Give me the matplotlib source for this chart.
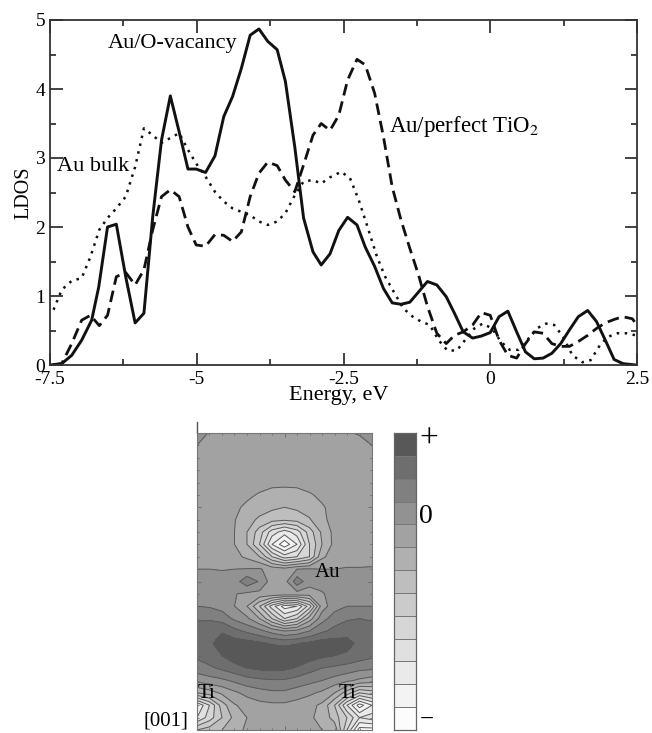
import numpy as np
import matplotlib
matplotlib.use('Agg')
import matplotlib.pyplot as plt
from matplotlib.colors import BoundaryNorm, ListedColormap
from matplotlib.ticker import MultipleLocator, FixedFormatter, FixedLocator

plt.rcParams['font.family'] = ['Liberation Serif', 'DejaVu Serif']
plt.rcParams['mathtext.fontset'] = 'stix'

W, H = 652, 733

# Au/O-vacancy
vac_x = [-7.5, -7.3, -7.13, -6.96, -6.79, -6.67, -6.52, -6.37, -6.21, -6.05, -5.9, -5.75, -5.6, -5.45, -5.3,
         -5.15, -5.01, -4.85, -4.69, -4.54, -4.39, -4.24, -4.09, -3.94, -3.79, -3.63, -3.49, -3.33, -3.18,
         -3.02, -2.88, -2.73, -2.58, -2.43, -2.27, -2.13, -1.97, -1.82, -1.67, -1.52, -1.37, -1.22, -1.07,
         -0.91, -0.75, -0.61, -0.46, -0.3, -0.15, 0.0, 0.15, 0.3, 0.45, 0.6, 0.75, 0.9, 1.05, 1.2, 1.35, 1.5,
         1.66, 1.81, 1.96, 2.11, 2.26, 2.48]
vac_y = [0.0, 0.02, 0.14, 0.36, 0.65, 1.13, 2.0, 2.04, 1.28, 0.61, 0.75, 2.15, 3.26, 3.9, 3.38,
         2.84, 2.84, 2.79, 3.03, 3.6, 3.89, 4.3, 4.78, 4.87, 4.69, 4.57, 4.11, 3.16, 2.13,
         1.64, 1.45, 1.61, 1.95, 2.14, 2.03, 1.71, 1.43, 1.11, 0.9, 0.88, 0.91, 1.06, 1.21,
         1.16, 0.99, 0.75, 0.48, 0.39, 0.42, 0.47, 0.7, 0.78, 0.48, 0.19, 0.09, 0.1, 0.17, 0.31, 0.51, 0.7,
         0.79, 0.63, 0.36, 0.08, 0.02, 0.0]

# Au/perfect TiO2
perf_x = [-7.44, -7.3, -7.13, -6.96, -6.81, -6.66, -6.52, -6.37, -6.21, -6.05, -5.9, -5.75, -5.6, -5.45, -5.3,
          -5.15, -5.01, -4.85, -4.69, -4.54, -4.39, -4.24, -4.09, -3.94, -3.79, -3.63, -3.49, -3.33, -3.18,
          -3.02, -2.88, -2.73, -2.58, -2.43, -2.27, -2.13, -1.97, -1.82, -1.67, -1.52, -1.37, -1.22, -1.07,
          -0.91, -0.75, -0.61, -0.46, -0.3, -0.15, 0.0, 0.15, 0.3, 0.45, 0.6, 0.75, 0.9, 1.05, 1.2, 1.35, 1.5,
          1.66, 1.81, 1.96, 2.11, 2.26, 2.42, 2.5]
perf_y = [0.0, 0.02, 0.31, 0.65, 0.72, 0.57, 0.72, 1.28, 1.34, 1.16, 1.38, 1.96, 2.44, 2.54, 2.44,
          2.0, 1.74, 1.72, 1.89, 1.88, 1.79, 1.93, 2.44, 2.78, 2.94, 2.89, 2.68, 2.51, 2.9,
          3.33, 3.5, 3.4, 3.62, 4.13, 4.43, 4.35, 3.94, 3.31, 2.58, 2.1, 1.69, 1.3, 0.85,
          0.46, 0.31, 0.43, 0.48, 0.58, 0.76, 0.72, 0.36, 0.14, 0.1, 0.31, 0.48, 0.46, 0.31, 0.27, 0.27, 0.34,
          0.43, 0.53, 0.61, 0.66, 0.7, 0.67, 0.58]

# Au bulk
bulk_x = [-7.44, -7.3, -7.13, -6.96, -6.81, -6.66, -6.52, -6.37, -6.21, -6.05, -5.9, -5.75, -5.6, -5.45, -5.3,
          -5.15, -5.01, -4.85, -4.69, -4.54, -4.39, -4.24, -4.09, -3.94, -3.79, -3.63, -3.49, -3.33, -3.18,
          -3.02, -2.88, -2.73, -2.54, -2.39, -2.24, -2.09, -1.93, -1.79, -1.63, -1.48, -1.32, -1.18, -1.03,
          -0.88, -0.73, -0.57, -0.43, -0.27, -0.13, 0.03, 0.18, 0.33, 0.48, 0.63, 0.79, 0.95, 1.09, 1.24, 1.4,
          1.57, 1.71, 1.87, 2.01, 2.17, 2.32, 2.48]
bulk_y = [0.8, 1.09, 1.22, 1.26, 1.57, 1.96, 2.13, 2.27, 2.44, 2.87, 3.43, 3.33, 3.22, 3.29, 3.36,
          3.12, 2.92, 2.73, 2.51, 2.37, 2.27, 2.22, 2.17, 2.08, 2.03, 2.08, 2.2, 2.46, 2.66,
          2.68, 2.63, 2.72, 2.8, 2.71, 2.39, 2.0, 1.57, 1.28, 1.04, 0.82, 0.7, 0.63, 0.58,
          0.36, 0.21, 0.21, 0.36, 0.53, 0.6, 0.53, 0.34, 0.22, 0.22, 0.36, 0.53, 0.6, 0.58, 0.41, 0.14,
          0.04, 0.07, 0.29, 0.41, 0.46, 0.46, 0.43]

xticks = [-7.5, -5, -2.5, 0, 2.5]
xtick_labels = ['-7.5', '-5', '-2.5', '0', '2.5']

# charge density map, in units of the grey steps of the scale bar (0 = white)
density = [
    [9.6, 8.9, 8.5, 8.5, 8.5, 8.5, 8.5, 8.5, 8.5, 8.5, 8.5, 8.5, 8.9, 9.1, 9.5],
    [9.0, 8.6, 8.5, 8.5, 8.5, 8.5, 8.5, 8.5, 8.5, 8.5, 8.5, 8.5, 8.5, 8.6, 9.0],
    [8.5, 8.5, 8.5, 8.5, 8.5, 8.5, 8.5, 8.5, 8.5, 8.5, 8.5, 8.5, 8.5, 8.5, 8.5],
    [8.5, 8.5, 8.5, 8.5, 8.5, 8.5, 8.5, 8.5, 8.5, 8.5, 8.5, 8.5, 8.5, 8.5, 8.5],
    [8.5, 8.5, 8.5, 8.5, 8.5, 8.4, 8.3, 8.3, 8.3, 8.4, 8.5, 8.5, 8.5, 8.5, 8.5],
    [8.5, 8.5, 8.5, 8.4, 8.2, 7.9, 7.6, 7.5, 7.6, 7.9, 8.2, 8.5, 8.5, 8.5, 8.5],
    [8.5, 8.5, 8.5, 8.2, 7.8, 7.5, 7.2, 7.0, 7.2, 7.5, 7.9, 8.3, 8.5, 8.5, 8.5],
    [8.5, 8.5, 8.5, 8.05, 7.4, 6.8, 6.4, 6.2, 6.4, 6.9, 7.8, 8.3, 8.5, 8.5, 8.5],
    [8.5, 8.5, 8.5, 8.0, 7.0, 5.5, 3.5, 2.5, 3.5, 5.5, 7.2, 8.3, 8.5, 8.5, 8.5],
    [8.5, 8.5, 8.5, 8.0, 7.0, 5.0, 2.0, 0.3, 2.0, 5.0, 7.0, 8.3, 8.5, 8.5, 8.6],
    [8.7, 8.7, 8.7, 8.3, 7.8, 7.0, 5.0, 3.5, 4.0, 5.0, 7.8, 8.5, 8.7, 8.7, 8.8],
    [9.0, 9.0, 8.95, 9.0, 9.05, 9.1, 8.6, 8.4, 9.0, 9.1, 9.0, 9.0, 9.05, 9.05, 9.05],
    [9.4, 9.4, 9.4, 9.5, 10.7, 9.9, 8.5, 8.6, 10.6, 9.4, 9.4, 9.4, 9.4, 9.4, 9.4],
    [9.5, 9.5, 9.5, 9.05, 8.8, 8.7, 8.7, 8.6, 8.6, 8.5, 8.9, 9.4, 9.5, 9.5, 9.5],
    [10.0, 9.9, 9.6, 9.0, 8.0, 6.0, 3.5, 1.5, 2.0, 4.5, 8.5, 9.6, 10.0, 10.0, 10.0],
    [10.9, 10.9, 10.6, 9.8, 9.2, 8.0, 6.0, 4.0, 5.0, 7.5, 9.6, 10.5, 10.9, 11.0, 10.9],
    [11.4, 11.6, 11.9, 11.3, 10.8, 10.3, 9.6, 9.0, 9.3, 10.0, 10.8, 11.3, 11.5, 11.6, 11.4],
    [11.3, 11.8, 12.5, 12.5, 12.4, 12.2, 11.9, 11.8, 11.95, 12.2, 12.5, 12.5, 12.4, 11.7, 11.3],
    [11.2, 11.6, 12.0, 12.6, 12.8, 12.8, 12.8, 12.7, 12.7, 12.5, 12.2, 12.0, 11.8, 11.5, 11.2],
    [10.5, 10.8, 11.2, 11.6, 12.0, 12.2, 12.3, 12.2, 11.9, 11.4, 11.0, 10.8, 10.6, 10.3, 10.2],
    [9.3, 9.6, 9.8, 10.2, 10.6, 10.8, 10.9, 10.9, 10.6, 10.3, 10.0, 9.6, 9.2, 8.8, 8.5],
    [7.0, 7.5, 8.2, 8.8, 9.3, 9.6, 9.8, 9.8, 9.5, 9.2, 8.8, 8.0, 6.5, 5.0, 5.5],
    [2.0, 4.0, 6.5, 7.9, 8.4, 8.7, 8.8, 8.8, 8.6, 8.3, 7.8, 6.0, 3.0, 0.5, 2.0],
    [3.0, 4.5, 6.0, 7.3, 8.0, 8.4, 8.5, 8.5, 8.4, 8.1, 7.8, 6.5, 5.0, 3.0, 3.5],
    [6.0, 6.5, 7.0, 7.8, 8.1, 8.4, 8.5, 8.5, 8.5, 8.3, 8.0, 7.8, 4.0, 0.5, 0.5],
]
grey_steps = [252, 243, 234, 224, 214, 203, 190, 176, 162, 146, 128, 110, 88]
scale_steps = list(range(13))


def axes_px(fig, left, top, right, bottom):
    return fig.add_axes([left / W, 1 - bottom / H, (right - left) / W, (bottom - top) / H])


fig = plt.figure(figsize=(W / 100, H / 100), dpi=100)
ax = axes_px(fig, 50, 20, 637, 365)
ax.plot(vac_x, vac_y, color='#111111', lw=2.1)
ax.plot(perf_x, perf_y, color='#111111', lw=2.0, dashes=(4.2, 2.2))
ax.plot(bulk_x, bulk_y, color='#111111', lw=1.8, dashes=(1, 2.2))
ax.set_xlim(-7.5, 2.5)
ax.set_ylim(0, 5)
ax.xaxis.set_major_locator(FixedLocator(xticks))
ax.xaxis.set_major_formatter(FixedFormatter(xtick_labels))
ax.xaxis.set_minor_locator(MultipleLocator(1.25))
ax.yaxis.set_major_locator(MultipleLocator(1))
ax.yaxis.set_minor_locator(MultipleLocator(0.5))
ax.tick_params(which='major', direction='in', length=9, width=1.2, top=True, right=True, labelsize=14, color='#222222')
ax.tick_params(which='minor', direction='in', length=4.5, width=1.2, top=True, right=True, color='#222222')
ax.tick_params(axis='x', pad=4.5)
ax.tick_params(axis='y', pad=3.5)
for s in ax.spines.values():
    s.set_linewidth(1.3)
    s.set_color('#333333')
ax.set_xlabel('Energy, eV', fontsize=16)
ax.xaxis.set_label_coords(0.492, -0.062)
ax.set_ylabel('LDOS', fontsize=14.5, labelpad=1)
ax.text(-6.51, 4.66, 'Au/O-vacancy', fontsize=16, va='center', ha='left')
ax.text(-1.72, 3.46, 'Au/perfect TiO$_2$', fontsize=16.5, va='center', ha='left')
ax.text(-7.38, 2.87, 'Au bulk', fontsize=16, va='center', ha='left')

# contour panel
cmap = ListedColormap([str(g / 255) for g in grey_steps])
norm = BoundaryNorm(np.arange(14), 13)
levels = np.arange(14)
Z = np.array(density)
ax2 = axes_px(fig, 197, 433, 372, 730)
ax2.contourf(Z, levels=levels, cmap=cmap, norm=norm, extend='both')
ax2.contour(Z, levels=levels, colors='#5a5a5a', linewidths=0.7)
ax2.set_xlim(0, 14)
ax2.set_ylim(24, 0)
ax2.xaxis.set_minor_locator(MultipleLocator(1))
ax2.yaxis.set_minor_locator(MultipleLocator(1))
ax2.xaxis.set_major_locator(MultipleLocator(7))
ax2.yaxis.set_major_locator(MultipleLocator(6))
ax2.tick_params(which='both', direction='in', top=True, right=True, labelleft=False, labelbottom=False,
                color='#666666', width=0.6)
ax2.tick_params(which='major', length=3)
ax2.tick_params(which='minor', length=1.5)
for s in ax2.spines.values():
    s.set_linewidth(0.8)
    s.set_color('#777777')
ax2.plot([0, 0], [0, -0.9], color='#555555', lw=1.0, clip_on=False)

ax2.text(9.4, 11.3, 'Au', fontsize=15, ha='left', va='center')
ax2.text(0.05, 21.05, 'Ti', fontsize=15, ha='left', va='center')
ax2.text(11.3, 21.05, 'Ti', fontsize=15, ha='left', va='center')
ax2.text(-0.7, 23.3, '[001]', fontsize=15, ha='right', va='center')

# grey scale bar
ax3 = axes_px(fig, 394, 433, 416, 730)
ax3.pcolormesh([0, 1], np.arange(14), np.array(scale_steps)[:, None], cmap=cmap, norm=norm,
               edgecolors='#777777', linewidth=0.5)
ax3.set_xticks([])
ax3.set_yticks([])
for s in ax3.spines.values():
    s.set_linewidth(0.9)
    s.set_color('#666666')
ax3.text(1.15, 12.7, '+', fontsize=24, ha='left', va='center')
ax3.text(1.15, 9.35, '0', fontsize=20, ha='left', va='center')
ax3.text(1.15, 0.45, '\u2212', fontsize=18, ha='left', va='center')

fig.savefig('out.png', dpi=100)
